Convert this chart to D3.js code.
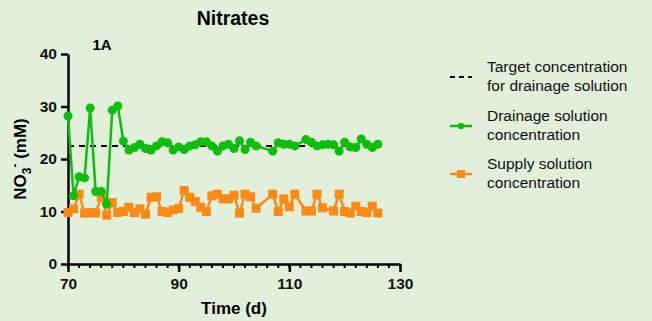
<!DOCTYPE html>
<html>
<head>
<meta charset="utf-8">
<script src="https://cdn.jsdelivr.net/npm/d3@7"></script>
<style>
  html, body { margin: 0; padding: 0; background: #e2efda; }
  svg { display: block; font-family: "Liberation Sans", Arial, sans-serif; }
</style>
</head>
<body>
<div id="chart"></div>
<script>
// ==========================
// Data
// ==========================
const drainDays = [70,71,72,73,74,75,76,77,78,79,80,81,82,83,84,85,86,87,88,89,90,91,92,93,94,95,96,97,98,99,
  100,101,102,103,104,107,108,109,110,111,113,114,115,116,117,118,119,120,121,122,123,124,125,126];
const drainValues = [28.2,13.0,16.6,16.4,29.7,13.8,13.8,11.4,29.3,30.1,23.4,21.7,22.2,22.8,22.0,21.7,22.5,23.3,23.1,21.7,
  22.3,21.8,22.5,22.7,23.3,23.3,22.5,21.5,22.5,22.8,22.0,23.5,21.8,23.2,22.5,21.5,23.1,22.8,22.8,22.5,
  23.7,23.2,22.5,22.7,22.8,22.7,21.5,23.2,22.3,22.2,23.8,22.8,22.2,22.8];

const supplyDays = [70,71,72,73,74,75,76,77,78,79,80,81,82,83,84,85,86,87,88,89,90,91,92,93,94,95,96,97,98,99,
  100,101,102,103,104,107,108,109,110,111,113,114,115,116,118,119,120,121,122,123,124,125,126];
const supplyValues = [9.8,10.5,13.3,9.7,9.8,9.7,12.8,9.3,11.7,9.8,10.0,10.8,9.8,10.5,9.5,12.7,12.8,10.0,9.8,10.3,
  10.6,14.0,12.7,11.9,10.8,10.0,13.0,13.3,12.4,12.4,13.1,9.7,13.3,12.8,10.6,13.3,10.0,12.4,10.9,13.3,
  10.1,10.1,13.3,10.7,10.1,13.3,10.0,9.7,11.0,10.0,9.8,11.0,9.7];

const targetValue = 22.5;
const targetDays = [70, 126];

const xTicks = [70, 90, 110, 130];
const yTicks = [0, 10, 20, 30, 40];

const legendItems = [
  { lines: ["Target concentration", "for drainage solution"], kind: "target" },
  { lines: ["Drainage solution", "concentration"], kind: "drain" },
  { lines: ["Supply solution", "concentration"], kind: "supply" }
];

const drain = drainDays.map((d, i) => ({ day: d, value: drainValues[i] }));
const supply = supplyDays.map((d, i) => ({ day: d, value: supplyValues[i] }));

// ==========================
// SVG Setup
// ==========================
const width = 652, height = 321;
const margin = { top: 54, right: 252, bottom: 57, left: 68 };
const innerWidth = width - margin.left - margin.right;
const innerHeight = height - margin.top - margin.bottom;

const green = "#0cbf0c";
const orange = "#fb8a14";

const svg = d3.select("#chart").append("svg")
  .attr("width", width)
  .attr("height", height);

const chart = svg.append("g")
  .attr("transform", `translate(${margin.left},${margin.top})`);

// ==========================
// Scales
// ==========================
const xScale = d3.scaleLinear().domain([70, 130]).range([0, innerWidth]);
const yScale = d3.scaleLinear().domain([0, 40]).range([innerHeight, 0]);

// ==========================
// Axes
// ==========================
// minor ticks every 2 days
chart.append("g")
  .selectAll("line")
  .data(d3.range(70, 131, 2))
  .enter()
  .append("line")
  .attr("x1", d => xScale(d))
  .attr("x2", d => xScale(d))
  .attr("y1", innerHeight)
  .attr("y2", innerHeight + 4)
  .attr("stroke", "#000")
  .attr("stroke-width", 2);

const xAxis = chart.append("g")
  .attr("transform", `translate(0,${innerHeight})`)
  .call(d3.axisBottom(xScale).tickValues(xTicks).tickSize(8).tickPadding(6).tickSizeOuter(0));

const yAxis = chart.append("g")
  .call(d3.axisLeft(yScale).tickValues(yTicks).tickSize(7).tickPadding(4).tickSizeOuter(0));

[xAxis, yAxis].forEach(ax => {
  ax.select(".domain").attr("stroke", "#000").attr("stroke-width", 2.5);
  ax.selectAll(".tick line").attr("stroke", "#000").attr("stroke-width", 2.5);
  ax.selectAll("text")
    .attr("fill", "#111")
    .style("font-size", "15.5px")
    .style("font-weight", "bold")
    .style("font-family", "'Liberation Sans', Arial, sans-serif");
});

// ==========================
// Target line
// ==========================
chart.append("line")
  .attr("x1", xScale(targetDays[0]))
  .attr("x2", xScale(targetDays[1]))
  .attr("y1", yScale(targetValue))
  .attr("y2", yScale(targetValue))
  .attr("stroke", "#000")
  .attr("stroke-width", 2)
  .attr("stroke-dasharray", "6,5");

// ==========================
// Series
// ==========================
const line = d3.line().x(d => xScale(d.day)).y(d => yScale(d.value));

chart.append("path")
  .datum(supply)
  .attr("d", line)
  .attr("fill", "none")
  .attr("stroke", orange)
  .attr("stroke-width", 2.5);

chart.selectAll(".sq")
  .data(supply)
  .enter()
  .append("rect")
  .attr("x", d => xScale(d.day) - 4.5)
  .attr("y", d => yScale(d.value) - 4.5)
  .attr("width", 9)
  .attr("height", 9)
  .attr("fill", orange);

chart.append("path")
  .datum(drain)
  .attr("d", line)
  .attr("fill", "none")
  .attr("stroke", green)
  .attr("stroke-width", 2.5);

chart.selectAll(".dot")
  .data(drain)
  .enter()
  .append("circle")
  .attr("cx", d => xScale(d.day))
  .attr("cy", d => yScale(d.value))
  .attr("r", 4.5)
  .attr("fill", green);

// ==========================
// Titles
// ==========================
svg.append("text")
  .attr("x", 233)
  .attr("y", 25)
  .attr("text-anchor", "middle")
  .style("font-size", "19.5px")
  .style("font-weight", "bold")
  .text("Nitrates");

svg.append("text")
  .attr("x", 102)
  .attr("y", 50)
  .attr("text-anchor", "middle")
  .style("font-size", "15px")
  .style("font-weight", "bold")
  .text("1A");

svg.append("text")
  .attr("x", margin.left + innerWidth / 2)
  .attr("y", 314)
  .attr("text-anchor", "middle")
  .style("font-size", "17px")
  .style("font-weight", "bold")
  .text("Time (d)");

const yLab = svg.append("text")
  .attr("transform", `translate(26,${margin.top + innerHeight / 2}) rotate(-90)`)
  .attr("text-anchor", "middle")
  .style("font-size", "17px")
  .style("font-weight", "bold");
yLab.append("tspan").text("NO");
yLab.append("tspan").attr("dy", 5).style("font-size", "12px").text("3");
yLab.append("tspan").attr("dy", -12).style("font-size", "12px").text("-");
yLab.append("tspan").attr("dy", 7).text(" (mM)");

// ==========================
// Legend
// ==========================
const legend = svg.append("g").attr("transform", "translate(450,0)");
const legendY = [77, 126, 174];

legendItems.forEach((item, i) => {
  const g = legend.append("g").attr("transform", `translate(0,${legendY[i]})`);
  if (item.kind === "target") {
    g.append("line")
      .attr("x1", 0).attr("x2", 22)
      .attr("stroke", "#000").attr("stroke-width", 2)
      .attr("stroke-dasharray", "5,4");
  } else {
    const c = item.kind === "drain" ? green : orange;
    g.append("line")
      .attr("x1", 0).attr("x2", 22)
      .attr("stroke", c).attr("stroke-width", 2.5);
    if (item.kind === "drain") {
      g.append("circle").attr("cx", 11).attr("r", 3.2).attr("fill", c);
    } else {
      g.append("rect").attr("x", 7).attr("y", -4).attr("width", 8).attr("height", 8).attr("fill", c);
    }
  }
  item.lines.forEach((t, j) => {
    g.append("text")
      .attr("x", 37)
      .attr("y", -5 + j * 19)
      .style("font-size", "15.5px")
      .attr("fill", "#111")
      .text(t);
  });
});
</script>
</body>
</html>
